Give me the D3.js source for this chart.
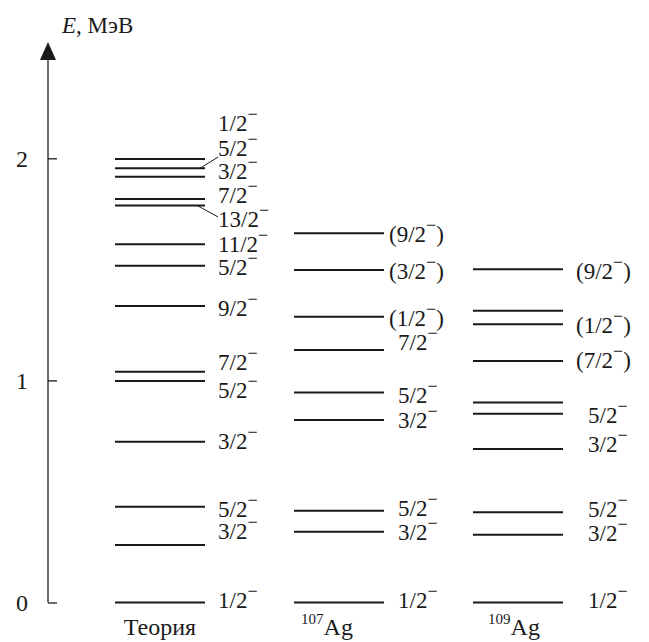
<!DOCTYPE html>
<html>
<head>
<meta charset="utf-8">
<script src="https://cdn.jsdelivr.net/npm/d3@7"></script>
<style>
  html, body { margin: 0; padding: 0; background: #fff; }
  svg { display: block; }
</style>
</head>
<body>
<svg id="chart" width="649" height="642"></svg>
<script>
// ---------------- DATA ----------------
const columns = ["Теория", "107Ag", "109Ag"];
const columnMass = ["", "107", "109"];
const columnSymbol = ["Теория", "Ag", "Ag"];

const theoryLevels = [1.997, 1.955, 1.917, 1.817, 1.788, 1.613, 1.516, 1.335, 1.039, 0.997, 0.724, 0.431, 0.259, 0];
const theorySpins  = ["1/2", "5/2", "3/2", "7/2", "13/2", "11/2", "5/2", "9/2", "7/2", "5/2", "3/2", "5/2", "3/2", "1/2"];
const theoryLabelE = [2.159, 2.046, 1.943, 1.835, 1.727, 1.614, 1.511, 1.328, 1.081, 0.955, 0.727, 0.421, 0.322, 0.011];
const theoryLeaders = [1, 4];

const ag107Levels = [1.662, 1.497, 1.287, 1.137, 0.945, 0.822, 0.413, 0.319, 0];
const ag107Spins  = ["(9/2)", "(3/2)", "(1/2)", "7/2", "5/2", "3/2", "5/2", "3/2", "1/2"];
const ag107LabelE = [1.659, 1.493, 1.281, 1.173, 0.934, 0.822, 0.425, 0.317, 0.011];

const ag109Levels = [1.500, 1.314, 1.253, 1.087, 0.900, 0.850, 0.691, 0.406, 0.305, 0];
const ag109Spins  = ["(9/2)", "(1/2)", "(7/2)", "5/2", "3/2", "5/2", "3/2", "1/2"];
const ag109LabelE = [1.493, 1.249, 1.092, 0.844, 0.714, 0.421, 0.313, 0.011];

const yTicks = [0, 1, 2];
const axisTitle = "МэВ";

// ---------------- LAYOUT ----------------
const FONT = "Liberation Serif";
const svg = d3.select("#chart");
const axisX = 48;
const y = d3.scaleLinear().domain([0, 2]).range([602.5, 158.3]);
const x = d3.scalePoint().domain(columns).range([160, 518]);
const halfW = 45;
const FS = 23;
const ink = "#1a1a1a";

// axis
svg.append("line")
  .attr("x1", axisX).attr("x2", axisX)
  .attr("y1", y(0)).attr("y2", 58)
  .attr("stroke", ink).attr("stroke-width", 1.3);
svg.append("path")
  .attr("d", `M${axisX},42 L${axisX - 8},60 L${axisX + 8},60 Z`)
  .attr("fill", ink);

const gAxis = svg.append("g")
  .attr("transform", `translate(${axisX},0)`)
  .call(d3.axisLeft(y).tickValues(yTicks).tickFormat(d3.format("d"))
        .tickSizeInner(-9).tickSizeOuter(0).tickPadding(20));
gAxis.select(".domain").remove();
gAxis.selectAll(".tick line").attr("stroke", ink).attr("stroke-width", 1.3);
gAxis.selectAll(".tick text")
  .attr("font-size", 24)
  .style("font-family", FONT)
  .attr("fill", ink)
  .attr("dy", "0.34em");

// axis title
const title = svg.append("text").attr("x", 62).attr("y", 33)
  .attr("font-size", 23).style("font-family", FONT).attr("fill", ink);
title.append("tspan").attr("font-style", "italic").text("E");
title.append("tspan").text(", " + axisTitle);

function spinLabel(g, xPos, yPos, spin) {
  const paren = spin.startsWith("(");
  const core = paren ? spin.slice(0, -1) : spin;
  const t = g.append("text").attr("x", xPos).attr("y", yPos)
    .attr("font-size", FS).style("font-family", FONT).attr("fill", ink);
  t.append("tspan").text(core);
  t.append("tspan").attr("font-size", 18).attr("dy", -11).text("−");
  if (paren) t.append("tspan").attr("font-size", FS).attr("dy", 11).text(")");
}

const datasets = [
  { levels: theoryLevels, spins: theorySpins, labelE: theoryLabelE, off: 13, offParen: 13 },
  { levels: ag107Levels, spins: ag107Spins, labelE: ag107LabelE, off: 14, offParen: 5 },
  { levels: ag109Levels, spins: ag109Spins, labelE: ag109LabelE, off: 25, offParen: 13 }
];

datasets.forEach((ds, ci) => {
  const cx = x(columns[ci]);
  const g = svg.append("g");
  g.selectAll("line.level").data(ds.levels).join("line")
    .attr("class", "level")
    .attr("x1", cx - halfW).attr("x2", cx + halfW)
    .attr("y1", d => y(d)).attr("y2", d => y(d))
    .attr("stroke", ink).attr("stroke-width", 2);
  ds.spins.forEach((s, i) => {
    const lx = cx + halfW + (s.startsWith("(") ? ds.offParen : ds.off);
    spinLabel(g, lx, y(ds.labelE[i]) + 8, s);
  });
});

const cx0 = x(columns[0]);
theoryLeaders.forEach(i => {
  const ly = y(theoryLabelE[i]);
  const lvl = y(theoryLevels[i]);
  const ty = ly > lvl ? ly - 2 : ly + 9;
  svg.append("line")
    .attr("x1", cx0 + halfW - (ly > lvl ? 8 : 5)).attr("y1", lvl)
    .attr("x2", cx0 + halfW + 13).attr("y2", ty)
    .attr("stroke", ink).attr("stroke-width", 1);
});

const nameDx = [0, -12, -4];
columns.forEach((c, ci) => {
  const t = svg.append("text")
    .attr("x", x(c) + nameDx[ci]).attr("y", 635)
    .attr("font-size", 24).attr("text-anchor", "middle")
    .style("font-family", FONT).attr("fill", ink);
  if (columnMass[ci]) {
    t.append("tspan").attr("font-size", 15).attr("dy", -11).text(columnMass[ci]);
    t.append("tspan").attr("dy", 11).text(columnSymbol[ci]);
  } else {
    t.text(columnSymbol[ci]);
  }
});
</script>
</body>
</html>
